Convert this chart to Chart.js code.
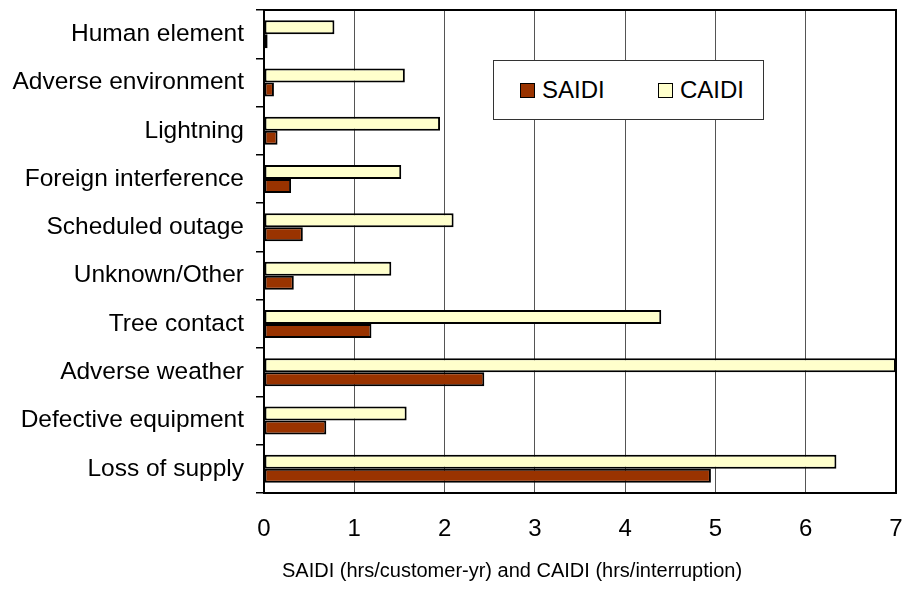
<!DOCTYPE html>
<html>
<head>
<meta charset="utf-8">
<script src="https://cdn.jsdelivr.net/npm/chart.js@4/dist/chart.umd.min.js"></script>
<style>
  body { margin: 0; background: #fff; }
  #wrap { position: relative; width: 907px; height: 598px; font-family: "Liberation Sans", Arial, sans-serif; color: #000; }
  #legend {
    position: absolute; left: 493px; top: 60px; width: 271px; height: 60px;
    background: #fff; border: 1px solid #333; box-sizing: border-box;
    font-size: 24px;
  }
  #legend .item { position: absolute; top: 16px; line-height: 26px; }
  #legend .sw { display: inline-block; width: 13px; height: 13px; border: 1.5px solid #000; margin-right: 7px; vertical-align: 0px; }
  #xtitle { position: absolute; left: 282px; top: 559px; font-size: 20px; white-space: nowrap; }
</style>
</head>
<body>
<div id="wrap">
  <canvas id="myChart" width="907" height="598"></canvas>
  <div id="legend">
    <span class="item" style="left:26px"><span class="sw" style="background:#993300"></span>SAIDI</span>
    <span class="item" style="left:164px"><span class="sw" style="background:#FFFFCC"></span>CAIDI</span>
  </div>
  <div id="xtitle">SAIDI (hrs/customer-yr) and CAIDI (hrs/interruption)</div>
</div>
<script>
const causes = ['Human element', 'Adverse environment', 'Lightning', 'Foreign interference', 'Scheduled outage',
    'Unknown/Other', 'Tree contact', 'Adverse weather', 'Defective equipment', 'Loss of supply'];
const caidi = [0.78, 1.56, 1.95, 1.52, 2.10, 1.41, 4.40, 7.0, 1.58, 6.34];
const saidi = [0.04, 0.11, 0.15, 0.30, 0.43, 0.33, 1.19, 2.44, 0.69, 4.95];
const xTicks = [0, 1, 2, 3, 4, 5, 6, 7];

const font = '"Liberation Sans", Arial, sans-serif';

// black frame round the plot area
const frame = {
    id: 'frame',
    afterDatasetsDraw(chart) {
        const a = chart.chartArea;
        const c = chart.ctx;
        c.save();
        c.strokeStyle = '#000';
        c.lineWidth = 2;
        c.strokeRect(a.left, a.top, a.right - a.left, a.bottom - a.top);
        c.restore();
    }
};

const ctx = document.getElementById('myChart').getContext('2d');
const myChart = new Chart(ctx, {
    type: 'bar',
    data: {
        labels: causes,
        datasets: [{
            label: 'CAIDI',
            data: caidi,
            backgroundColor: '#FFFFCC',
            borderColor: '#000',
            borderWidth: 2,
            borderSkipped: false
        }, {
            label: 'SAIDI',
            data: saidi,
            backgroundColor: '#993300',
            borderColor: '#000',
            borderWidth: 2,
            borderSkipped: false
        }]
    },
    options: {
        indexAxis: 'y',
        responsive: false,
        animation: false,
        layout: { padding: { left: 0, right: 11, top: 10, bottom: 0 } },
        datasets: { bar: { categoryPercentage: 0.58, barPercentage: 1.0 } },
        plugins: {
            legend: { display: false },
            tooltip: { enabled: false }
        },
        scales: {
            x: {
                min: 0,
                max: 7,
                afterBuildTicks(scale) {
                    scale.ticks = xTicks.map(v => ({ value: v }));
                },
                afterFit(scale) {
                    scale.height = 105;
                    scale.paddingLeft = 0;
                    scale.paddingRight = 0;
                },
                grid: { color: '#555', lineWidth: 1, drawTicks: false },
                border: { color: '#000', width: 2 },
                ticks: { color: '#000', padding: 22, font: { family: font, size: 24 } }
            },
            y: {
                afterFit(scale) {
                    scale.width = 264;
                    scale.paddingTop = 0;
                    scale.paddingBottom = 0;
                },
                grid: { offset: true, drawOnChartArea: false, tickLength: 8, color: '#000', lineWidth: 1.5 },
                border: { color: '#000', width: 2 },
                ticks: { color: '#000', padding: 12, font: { family: font, size: 24.5 } }
            }
        }
    },
    plugins: [frame]
});
</script>
</body>
</html>
